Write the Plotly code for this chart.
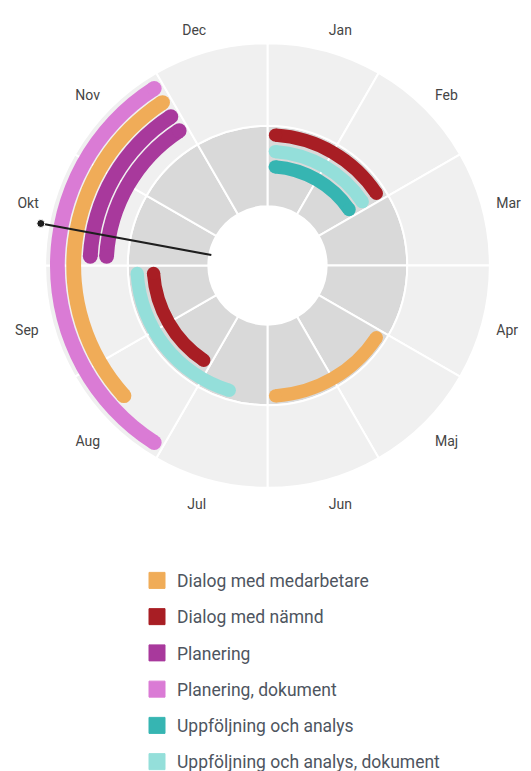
import math
import plotly.graph_objects as go

# ---------------- data ----------------
months = ["Jan", "Feb", "Mar", "Apr", "Maj", "Jun", "Jul", "Aug", "Sep", "Okt", "Nov", "Dec"]

series_names = [
    "Dialog med medarbetare",
    "Dialog med nämnd",
    "Planering",
    "Planering, dokument",
    "Uppföljning och analys",
    "Uppföljning och analys, dokument",
]
series_colors = ["#F0AC58", "#A81E24", "#A8399C", "#DA7BD5", "#36B5B2", "#94DFDA"]

# activities: series index, start (months from 1 Jan), end, lane
act_series = [0, 0, 1, 1, 2, 2, 3, 4, 5, 5]
act_start = [7.5, 4.0, 0.0, 7.0, 9.0, 9.0, 7.0, 0.0, 0.0, 6.45]
act_end = [11.0, 6.0, 2.0, 9.0, 11.0, 11.0, 11.0, 2.0, 2.0, 9.0]
act_lane = ["o2", "iA", "iA", "iB", "o3", "o4", "o1", "iC", "iB", "iA"]

today = 9.35  # ~ 11 Okt

# ---------------- geometry / style ----------------
BODY = 8                       # default page margin of the html body
W, H = 531 - BODY, 771 - BODY  # figure size so it fits the window
CX, CY = 267.5 - BODY, 265.5 - BODY   # centre in figure px
RMAX = 228.0                   # radial axis range (units)
PX_PER_UNIT = 1.02
R_PX = RMAX * PX_PER_UNIT

HOLE = 58.0
INNER_OUT = 137.0
OUTER_OUT = 218.0
lane_r = {"o1": 206.0, "o2": 190.0, "o3": 174.0, "o4": 158.0,
          "iA": 128.0, "iB": 112.0, "iC": 97.0}
lane_w = {"o1": 14.5, "o2": 14.5, "o3": 14.5, "o4": 14.5,
          "iA": 13.0, "iB": 13.0, "iC": 13.0}
PAD_DEG = 0.6
DEG_PER_MONTH = 30.0

fig = go.Figure()

month_theta = [DEG_PER_MONTH * (i + 0.5) for i in range(12)]

# background rings
fig.add_trace(go.Barpolar(
    theta=month_theta, r=[INNER_OUT - HOLE] * 12, base=[HOLE] * 12,
    width=[DEG_PER_MONTH] * 12,
    marker=dict(color="#D9D9D9", line=dict(color="white", width=2), opacity=1),
    showlegend=False, hoverinfo="skip"))
fig.add_trace(go.Barpolar(
    theta=month_theta, r=[OUTER_OUT - INNER_OUT] * 12, base=[INNER_OUT] * 12,
    width=[DEG_PER_MONTH] * 12,
    marker=dict(color="#F0F0F0", line=dict(color="white", width=2), opacity=1),
    showlegend=False, hoverinfo="skip"))

# activity arcs with rounded caps
for si, (name, col) in enumerate(zip(series_names, series_colors)):
    th, wd, bs, rr = [], [], [], []
    cap_r, cap_t, cap_s = [], [], []
    for a in range(len(act_series)):
        if act_series[a] != si:
            continue
        rc = lane_r[act_lane[a]]
        w = lane_w[act_lane[a]]
        cap_deg = math.degrees((w / 2) / rc)
        a1 = act_start[a] * DEG_PER_MONTH + PAD_DEG + cap_deg
        a2 = act_end[a] * DEG_PER_MONTH - PAD_DEG - cap_deg
        th.append((a1 + a2) / 2)
        wd.append(a2 - a1)
        bs.append(rc - w / 2)
        rr.append(w)
        for ang in (a1, a2):
            cap_r.append(rc)
            cap_t.append(ang)
            cap_s.append(w * PX_PER_UNIT)
    fig.add_trace(go.Barpolar(
        theta=th, r=rr, base=bs, width=wd,
        marker=dict(color=col, line=dict(width=0), opacity=1),
        name=name, legendgroup=name, showlegend=False, hoverinfo="skip"))
    fig.add_trace(go.Scatterpolar(
        r=cap_r, theta=cap_t, mode="markers", opacity=1,
        marker=dict(color=col, size=cap_s, opacity=1, line=dict(width=0)),
        name=name, legendgroup=name, showlegend=False, hoverinfo="skip"))
    # legend entry
    fig.add_trace(go.Scatterpolar(
        r=[None], theta=[None], mode="markers",
        marker=dict(color=col, symbol="square", size=16, opacity=1,
                    line=dict(color=col, width=1)),
        name=name, legendgroup=name, showlegend=True))

# today pointer
fig.add_trace(go.Scatterpolar(
    r=[HOLE - 2, 226], theta=[today * DEG_PER_MONTH] * 2,
    mode="lines+markers",
    line=dict(color="#1E1E1E", width=2),
    marker=dict(size=[0, 8], color="#1E1E1E", opacity=1),
    showlegend=False, hoverinfo="skip", cliponaxis=False))

fig.update_layout(
    width=W, height=H,
    margin=dict(l=0, r=0, t=0, b=0, autoexpand=False),
    paper_bgcolor="white",
    font=dict(family="Roboto, sans-serif"),
    polar=dict(
        domain=dict(x=[(CX - R_PX) / W, (CX + R_PX) / W],
                    y=[1 - (CY + R_PX) / H, 1 - (CY - R_PX) / H]),
        bgcolor="white",
        barmode="overlay",
        radialaxis=dict(range=[0, RMAX], visible=False),
        angularaxis=dict(
            rotation=90, direction="clockwise",
            tickmode="array", tickvals=month_theta, ticktext=months,
            showline=False, showgrid=False,
            ticks="outside", ticklen=1, tickcolor="rgba(0,0,0,0)",
            tickfont=dict(size=14, color="#454545", family="Roboto, sans-serif"),
        ),
    ),
    legend=dict(
        x=129 / W, xanchor="left", y=1 - 554.5 / H, yanchor="top",
        font=dict(size=17.5, color="#4E5560", family="Roboto, sans-serif"),
        tracegroupgap=10.5, bgcolor="rgba(0,0,0,0)",
    ),
    showlegend=True,
)

fig.write_html("out.html")
